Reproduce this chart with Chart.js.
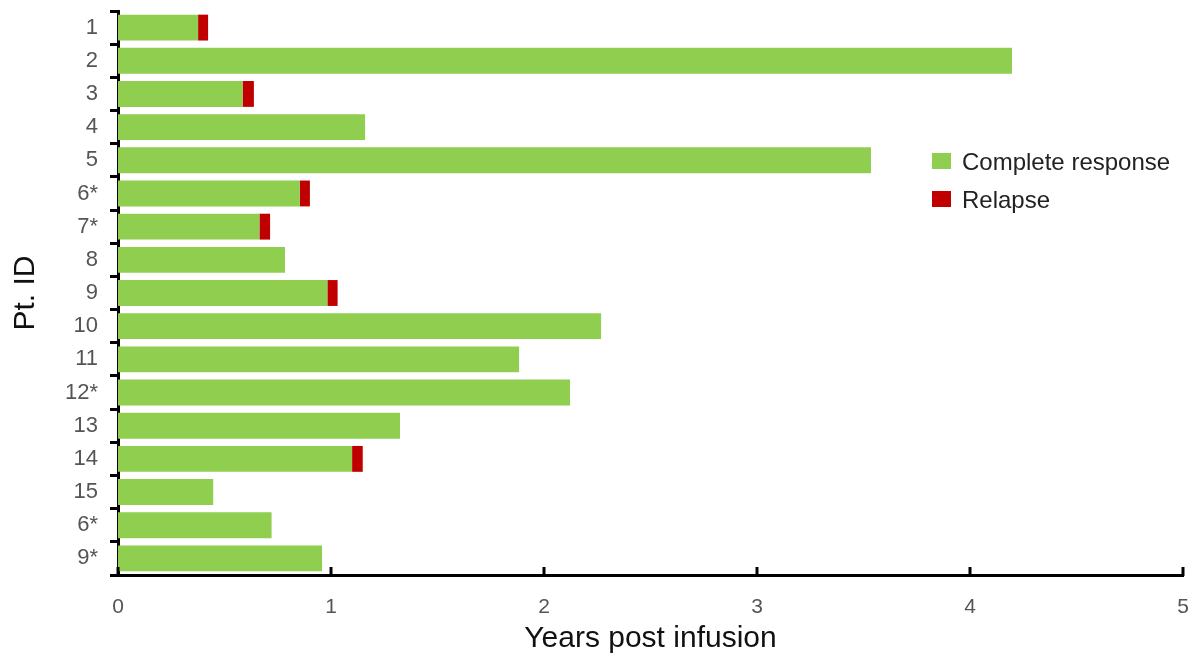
<!DOCTYPE html>
<html>
<head>
<meta charset="utf-8">
<script src="https://cdn.jsdelivr.net/npm/chart.js@4"></script>
<style>
  body { margin: 0; background: #fff; }
  #wrap { width: 1194px; height: 663px; }
</style>
</head>
<body>
<div id="wrap"><canvas id="barChart" width="1194" height="663"></canvas></div>
<script>
// patient ids (top to bottom)
const patients = ['1', '2', '3', '4', '5', '6*', '7*', '8', '9', '10', '11', '12*', '13', '14', '15', '6*', '9*'];
// years in complete response
const completeResponse = [0.376, 4.197, 0.585, 1.16, 3.535, 0.854, 0.664, 0.784, 0.983, 2.268, 1.883, 2.122, 1.324, 1.099, 0.447, 0.721, 0.958];
// relapse segment appended at the end
const relapse = [0.047, 0, 0.053, 0, 0, 0.047, 0.05, 0, 0.048, 0, 0, 0, 0, 0.05, 0, 0, 0];
const xTicks = [0, 1, 2, 3, 4, 5];

const green = '#8fce4f';
const red = '#c00000';

// little upward ticks on the x axis + the legend box
const extras = {
  id: 'extras',
  afterDraw(chart) {
    const c = chart.ctx;
    const xs = chart.scales.x;
    const y0 = xs.top;
    c.save();
    c.strokeStyle = '#000';
    c.lineWidth = 3;
    xTicks.forEach(function (t) {
      const px = xs.getPixelForValue(t);
      c.beginPath();
      c.moveTo(px, y0 + 1);
      c.lineTo(px, y0 - 8);
      c.stroke();
    });

    // legend
    c.font = '24px "Liberation Sans", Arial, sans-serif';
    c.textBaseline = 'middle';
    chart.data.datasets.forEach(function (ds, i) {
      const ly = 161 + i * 38;
      c.fillStyle = ds.backgroundColor;
      c.fillRect(932, ly - 8, 19, 16);
      c.fillStyle = '#222';
      c.fillText(ds.label, 962, ly + 2);
    });
    c.restore();
  }
};

const ctx = document.getElementById('barChart').getContext('2d');
const barChart = new Chart(ctx, {
  type: 'bar',
  data: {
    labels: patients,
    datasets: [
      {
        label: 'Complete response',
        data: completeResponse,
        backgroundColor: green,
        borderWidth: 0,
        barPercentage: 0.78,
        categoryPercentage: 1
      },
      {
        label: 'Relapse',
        data: relapse,
        backgroundColor: red,
        borderWidth: 0,
        barPercentage: 0.78,
        categoryPercentage: 1
      }
    ]
  },
  options: {
    indexAxis: 'y',
    responsive: false,
    animation: false,
    layout: { padding: { top: 11, right: 11, left: 0, bottom: 0 } },
    plugins: {
      legend: { display: false },
      tooltip: { enabled: false }
    },
    scales: {
      x: {
        stacked: true,
        min: 0,
        max: 5,
        afterBuildTicks: function (scale) {
          scale.ticks = xTicks.map(function (v) { return { value: v }; });
        },
        afterFit: function (scale) {
          scale.height = 88;
          scale.paddingLeft = 0;
          scale.paddingRight = 0;
        },
        border: { color: '#000', width: 3 },
        grid: { display: false, drawTicks: false },
        ticks: {
          color: '#555',
          padding: 20,
          maxRotation: 0,
          font: { size: 21, family: '"Liberation Sans", Arial, sans-serif' }
        },
        title: {
          display: true,
          text: 'Years post infusion',
          color: '#111',
          padding: { top: 0, bottom: 6 },
          font: { size: 30, family: '"Liberation Sans", Arial, sans-serif' }
        }
      },
      y: {
        stacked: true,
        afterFit: function (scale) {
          scale.width = 118;
          scale.paddingTop = 0;
          scale.paddingBottom = 0;
        },
        border: { color: '#000', width: 3 },
        grid: {
          offset: true,
          drawOnChartArea: false,
          drawTicks: true,
          tickLength: 8,
          lineWidth: 3,
          color: '#000'
        },
        ticks: {
          color: '#555',
          padding: 12,
          autoSkip: false,
          font: { size: 22, family: '"Liberation Sans", Arial, sans-serif' }
        },
        title: {
          display: true,
          text: 'Pt. ID',
          color: '#111',
          padding: { top: 8, bottom: 0 },
          font: { size: 30, family: '"Liberation Sans", Arial, sans-serif' }
        }
      }
    }
  },
  plugins: [extras]
});
</script>
</body>
</html>
